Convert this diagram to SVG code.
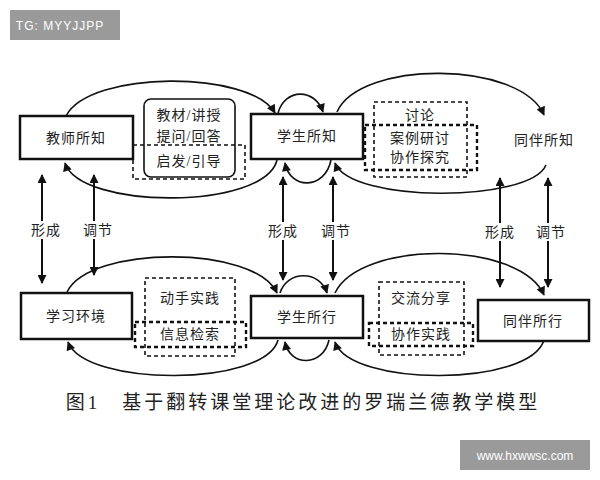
<svg xmlns="http://www.w3.org/2000/svg" width="600" height="480" viewBox="0 0 600 480">
<style>
.box{fill:#fff;stroke:#111;stroke-width:2.5}
.d{fill:none;stroke:#111;stroke-width:1.6;stroke-dasharray:4 3}
.dt{fill:none;stroke:#111;stroke-width:2.4;stroke-dasharray:4 3}
.c{fill:none;stroke:#111;stroke-width:1.6}
.v{fill:none;stroke:#111;stroke-width:2;marker-start:url(#a);marker-end:url(#a)}
text{font-family:"Liberation Serif","Noto Sans CJK SC",serif;font-size:14px;fill:#222;text-anchor:middle;letter-spacing:1px}
.lb{fill:#fff}
</style>
<defs>
<marker id="a" viewBox="0 0 10 10" refX="9" refY="5" markerWidth="10" markerHeight="9" orient="auto-start-reverse" markerUnits="userSpaceOnUse"><path d="M0,0L10,5L0,10z" fill="#111"/></marker>
<marker id="h" viewBox="0 0 10 10" refX="9" refY="5" markerWidth="10" markerHeight="9" orient="auto" markerUnits="userSpaceOnUse"><path d="M0,0L10,5L0,10z" fill="#111"/></marker>
</defs>
<rect width="600" height="480" fill="#fff"/>
<g id="connectors">
<path class="c" marker-end="url(#h)" d="M66,116 C90,70 250,70 275,113"/>
<path class="c" marker-end="url(#h)" d="M278,113 C285,88 315,88 323,112"/>
<path class="c" marker-end="url(#h)" d="M337,112 C360,60 520,60 544,115"/>
<path class="c" marker-end="url(#h)" d="M277,160 C265,210 80,210 65,163"/>
<path class="c" marker-end="url(#h)" d="M331,160 C325,190 290,190 285,163"/>
<path class="c" marker-end="url(#h)" d="M546,165 C530,203 350,203 335,163"/>
<path class="c" marker-end="url(#h)" d="M67,292 C90,245 255,245 277,293"/>
<path class="c" marker-end="url(#h)" d="M280,293 C287,270 320,270 327,293"/>
<path class="c" marker-end="url(#h)" d="M335,293 C360,240 520,240 544,295"/>
<path class="c" marker-end="url(#h)" d="M278,340 C265,387 85,387 68,342"/>
<path class="c" marker-end="url(#h)" d="M329,340 C323,367 290,367 285,342"/>
<path class="c" marker-end="url(#h)" d="M544,340 C530,387 350,387 335,342"/>
<path class="v" d="M42,175 L42,283"/>
<path class="v" d="M94,175 L94,275"/>
<path class="v" d="M283,177 L283,280"/>
<path class="v" d="M333,177 L333,280"/>
<path class="v" d="M500,178 L500,287"/>
<path class="v" d="M548,178 L548,287"/>
<rect class="lb" x="28" y="221" width="36" height="18"/><text x="46" y="235">形成</text>
<rect class="lb" x="80" y="221" width="36" height="18"/><text x="98" y="235">调节</text>
<rect class="lb" x="265" y="222" width="36" height="18"/><text x="283" y="236">形成</text>
<rect class="lb" x="318" y="222" width="36" height="18"/><text x="336" y="236">调节</text>
<rect class="lb" x="482" y="223" width="36" height="18"/><text x="500" y="237">形成</text>
<rect class="lb" x="533" y="223" width="36" height="18"/><text x="551" y="237">调节</text>
</g>
<g id="n1"><rect class="box" x="20" y="116" width="113" height="43"/><text x="76" y="143">教师所知</text></g>
<g id="n2"><rect fill="#fff" stroke="#111" stroke-width="1.6" x="144" y="99" width="91" height="78" rx="7"/><rect class="d" x="133" y="145" width="112" height="34"/><text x="189" y="120">教材/讲授</text><text x="189" y="141">提问/回答</text><text x="189" y="166">启发/引导</text></g>
<g id="n3"><rect class="box" x="251" y="114" width="112" height="45"/><text x="307" y="141">学生所知</text></g>
<g id="n4"><rect class="d" x="374" y="102" width="93" height="75"/><rect class="dt" x="365" y="125" width="112" height="45"/><text x="420" y="120">讨论</text><text x="420" y="143">案例研讨</text><text x="420" y="162">协作探究</text></g>
<g id="n5"><text x="544" y="145">同伴所知</text></g>
<g id="n6"><rect class="box" x="21" y="293" width="111" height="46"/><text x="76" y="321">学习环境</text></g>
<g id="n7"><rect class="d" x="145" y="278" width="90" height="78"/><rect class="dt" x="135" y="322" width="111" height="25"/><text x="190" y="303">动手实践</text><text x="190" y="339">信息检索</text></g>
<g id="n8"><rect class="box" x="251" y="296" width="112" height="42"/><text x="307" y="322">学生所行</text></g>
<g id="n9"><rect class="d" x="379" y="282" width="85" height="73"/><rect class="dt" x="369" y="323" width="104" height="23"/><text x="421" y="303">交流分享</text><text x="421" y="339">协作实践</text></g>
<g id="n10"><rect class="box" x="478" y="300" width="111" height="41"/><text x="533" y="326">同伴所行</text></g>
<text x="303" y="409" style="font-size:19px;letter-spacing:3px">图1　基于翻转课堂理论改进的罗瑞兰德教学模型</text>
<rect x="10" y="10" width="110" height="30" fill="#9a9a9a"/>
<text x="60" y="30" style="font-family:'Liberation Sans',sans-serif;font-size:12px;fill:#fff">TG: MYYJJPP</text>
<rect x="460" y="440" width="130" height="30" fill="#9a9a9a"/>
<text x="525" y="460" style="font-family:'Liberation Sans',sans-serif;font-size:12px;fill:#fff;letter-spacing:0">www.hxwwsc.com</text>
</svg>
